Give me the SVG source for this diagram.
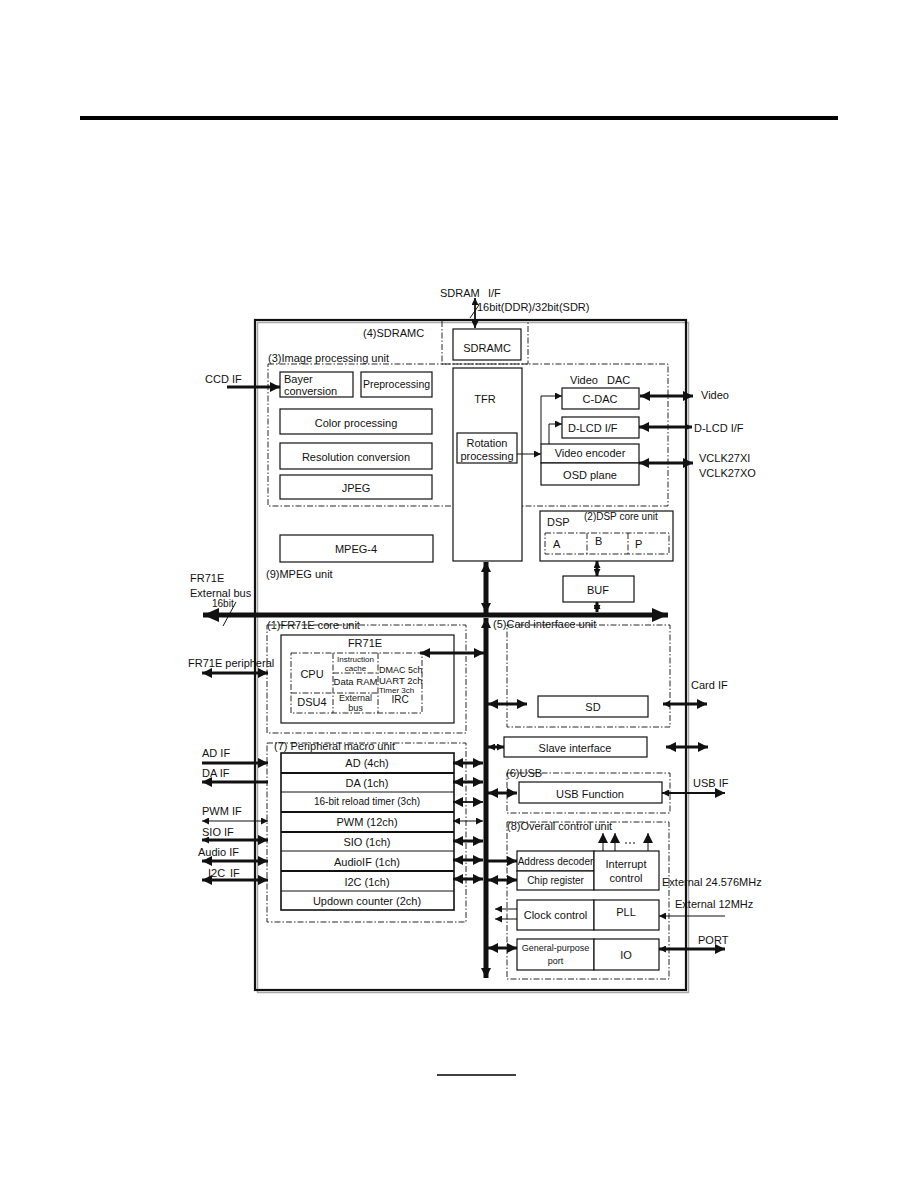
<svg xmlns="http://www.w3.org/2000/svg" width="918" height="1188" viewBox="0 0 918 1188">
<style>
text{font-family:"Liberation Sans",Arial,sans-serif;font-size:11px;fill:#111}
.m{text-anchor:middle}
.sm{font-size:9px}
.xs{font-size:8px}
.box{fill:#fff;stroke:#111;stroke-width:1.2}
.row{fill:#fff;stroke:#111;stroke-width:1.6}
.dash{fill:none;stroke:#111;stroke-width:0.9;stroke-dasharray:6 2 1.5 2}
.c{fill:none;stroke:#111;stroke-linecap:butt}
.t1{stroke-width:1}
.t2{stroke-width:1.8}
.t3{stroke-width:3}
.t5{stroke-width:5}
</style>
<defs>
<marker id="a" markerUnits="userSpaceOnUse" markerWidth="10" markerHeight="10" viewBox="0 0 10 10" refX="10" refY="5" orient="auto-start-reverse"><path d="M0,0L10,5L0,10z" fill="#111"/></marker>
<marker id="s" markerUnits="userSpaceOnUse" markerWidth="7" markerHeight="7" viewBox="0 0 10 10" refX="10" refY="5" orient="auto-start-reverse"><path d="M0,0L10,5L0,10z" fill="#111"/></marker>
<marker id="b" markerUnits="userSpaceOnUse" markerWidth="16" markerHeight="14" viewBox="0 0 16 14" refX="16" refY="7" orient="auto-start-reverse"><path d="M0,0L16,7L0,14z" fill="#111"/></marker>
</defs>
<rect width="918" height="1188" fill="#fff"/>
<rect x="80" y="116" width="758" height="4" fill="#000"/>
<line x1="437" y1="1075" x2="516" y2="1075" stroke="#000" stroke-width="1.5"/>

<g id="frame">
<rect x="257.5" y="322.5" width="431" height="670" fill="none" stroke="#aaa" stroke-width="1.5"/>
<rect x="255" y="320" width="431" height="670" fill="none" stroke="#111" stroke-width="2.2"/>
</g>

<g id="sdramc-unit">
<rect class="dash" x="442" y="320" width="86" height="44"/>
<text x="363" y="337">(4)SDRAMC</text>
</g>
<g id="sdramc"><rect class="box" x="453" y="329" width="68" height="31"/><text class="m" x="487" y="352">SDRAMC</text></g>
<g id="sdram-if"><text x="440" y="297">SDRAM<tspan x="488">I/F</tspan></text><text x="477" y="311">16bit(DDR)/32bit(SDR)</text></g>

<g id="image-unit"><rect class="dash" x="268" y="364" width="400" height="142"/><text x="268" y="362">(3)Image processing unit</text></g>
<g id="bayer"><rect class="box" x="280" y="372" width="73" height="25"/><text x="284" y="383">Bayer</text><text x="284" y="395">conversion</text></g>
<g id="preprocessing"><rect class="box" x="361" y="372" width="71" height="25"/><text class="m" x="396.5" y="388" style="font-size:10.5px">Preprocessing</text></g>
<g id="color"><rect class="box" x="280" y="409" width="152" height="25"/><text class="m" x="356" y="427">Color processing</text></g>
<g id="resolution"><rect class="box" x="280" y="443" width="152" height="26"/><text class="m" x="356" y="461">Resolution conversion</text></g>
<g id="jpeg"><rect class="box" x="280" y="475" width="152" height="24"/><text class="m" x="356" y="492">JPEG</text></g>
<g id="ccd-if"><text x="205" y="383">CCD IF</text></g>

<g id="tfr"><rect class="box" x="453" y="368" width="69" height="193"/><text class="m" x="485" y="403">TFR</text></g>
<g id="rotation"><rect class="box" x="457" y="433" width="60" height="30"/><text class="m" x="487" y="447">Rotation</text><text class="m" x="487" y="460">processing</text></g>

<g id="video-dac"><text x="570" y="384">Video<tspan x="607">DAC</tspan></text></g>
<g id="cdac"><rect class="box" x="562" y="388" width="77" height="21"/><text class="m" x="600" y="403">C-DAC</text></g>
<g id="dlcd"><rect class="box" x="562" y="417" width="77" height="21"/><text x="568" y="432">D-LCD I/F</text></g>
<g id="encoder"><rect class="box" x="541" y="444" width="98" height="19"/><text class="m" x="590" y="457">Video encoder</text></g>
<g id="osd"><rect class="box" x="541" y="463" width="98" height="22"/><text class="m" x="590" y="479">OSD plane</text></g>
<g id="ext-video"><text x="701" y="399">Video</text><text x="694" y="432">D-LCD I/F</text><text x="699" y="462">VCLK27XI</text><text x="699" y="477">VCLK27XO</text></g>

<g id="dsp-unit">
<rect class="box" x="540" y="511" width="133" height="50"/>
<text x="547" y="526">DSP</text>
<text x="584" y="520" style="font-size:10px">(2)DSP core unit</text>
<rect class="dash" x="545" y="533" width="124" height="21"/>
<line class="dash" x1="587" y1="533" x2="587" y2="554"/>
<line class="dash" x1="628" y1="533" x2="628" y2="554"/>
<text x="553" y="548">A</text><text x="595" y="545">B</text><text x="635" y="548">P</text>
</g>
<g id="buf"><rect class="box" x="563" y="576" width="71" height="26"/><text class="m" x="598" y="594">BUF</text></g>

<g id="mpeg-unit"><text x="266" y="578">(9)MPEG unit</text></g>
<g id="mpeg4"><rect class="box" x="280" y="535" width="153" height="27"/><text class="m" x="356" y="553">MPEG-4</text></g>
<g id="ext-bus"><text x="190" y="582">FR71E</text><text x="190" y="597">External bus</text><text x="212" y="607" style="font-size:10px">16bit</text></g>

<g id="fr71e-unit">
<rect class="dash" x="267" y="625" width="199" height="108"/>
<text x="267" y="629">(1)FR71E core unit</text>
</g>
<g id="fr71e">
<rect class="box" x="281" y="635" width="173" height="88"/>
<text class="m" x="365" y="647">FR71E</text>
<rect class="dash" x="291" y="653" width="131" height="60"/>
<line class="dash" x1="333" y1="653" x2="333" y2="713"/>
<line class="dash" x1="378" y1="653" x2="378" y2="713"/>
<line class="dash" x1="291" y1="693" x2="378" y2="693"/>
<line class="dash" x1="333" y1="673" x2="378" y2="673"/>
<text class="m" x="312" y="678">CPU</text>
<text class="m" x="312" y="706">DSU4</text>
<text class="m xs" x="355.5" y="662">Instruction</text>
<text class="m xs" x="355.5" y="671">cache</text>
<text class="m" x="355.5" y="685" style="font-size:9.5px">Data RAM</text>
<text class="m sm" x="355.5" y="701">External</text>
<text class="m sm" x="355.5" y="711">bus</text>
<text x="379" y="673" style="font-size:9px">DMAC 5ch</text>
<text x="379" y="684" style="font-size:9.5px">UART 2ch</text>
<text x="379" y="693" class="xs">Timer 3ch</text>
<text class="m" x="400" y="703" style="font-size:10px">IRC</text>
</g>
<g id="fr71e-periph"><text x="188" y="667">FR71E peripheral</text></g>

<g id="card-unit"><rect class="dash" x="507" y="625" width="163" height="102"/><text x="493" y="628">(5)Card interface unit</text></g>
<g id="sd"><rect class="box" x="538" y="696" width="110" height="21"/><text class="m" x="593" y="711">SD</text></g>
<g id="card-if"><text x="691" y="689">Card IF</text></g>
<g id="slave"><rect class="box" x="504" y="737" width="143" height="20"/><text class="m" x="575" y="752">Slave interface</text></g>

<g id="periph-unit">
<rect class="dash" x="267" y="743" width="199" height="179"/>
<text x="274" y="750">(7) Peripheral macro unit</text>
<rect class="row" x="281" y="753" width="173" height="157"/>
<line class="c t2" x1="281" y1="773" x2="454" y2="773"/>
<line class="c t1" x1="281" y1="792" x2="454" y2="792"/>
<line class="c t2" x1="281" y1="812" x2="454" y2="812"/>
<line class="c t2" x1="281" y1="832" x2="454" y2="832"/>
<line class="c t1" x1="281" y1="851" x2="454" y2="851"/>
<line class="c t2" x1="281" y1="871" x2="454" y2="871"/>
<line class="c t1" x1="281" y1="891" x2="454" y2="891"/>
<text class="m" x="367" y="767">AD (4ch)</text>
<text class="m" x="367" y="787">DA (1ch)</text>
<text class="m" x="367" y="805" style="font-size:10px">16-bit reload timer (3ch)</text>
<text class="m" x="367" y="826">PWM (12ch)</text>
<text class="m" x="367" y="846">SIO (1ch)</text>
<text class="m" x="367" y="866">AudioIF (1ch)</text>
<text class="m" x="367" y="886">I2C (1ch)</text>
<text class="m" x="367" y="905">Updown counter (2ch)</text>
</g>
<g id="periph-if">
<text x="202" y="757">AD IF</text>
<text x="202" y="777">DA IF</text>
<text x="202" y="815">PWM IF</text>
<text x="202" y="836">SIO IF</text>
<text x="198" y="856">Audio IF</text>
<text x="208" y="877">I2C<tspan x="230">IF</tspan></text>
</g>

<g id="usb-unit"><rect class="dash" x="507" y="773" width="163" height="40"/><text x="506" y="777">(6)USB</text></g>
<g id="usb"><rect class="box" x="519" y="782" width="143" height="21"/><text class="m" x="590" y="798">USB Function</text><text x="693" y="787">USB IF</text></g>

<g id="control-unit"><rect class="dash" x="507" y="822" width="162" height="157"/><text x="507" y="830">(8)Overall control unit</text></g>
<g id="addr"><rect class="box" x="517" y="851" width="77" height="20"/><text class="m" x="555.5" y="865" style="font-size:10px">Address decoder</text></g>
<g id="chipreg"><rect class="box" x="517" y="871" width="77" height="19"/><text class="m" x="555.5" y="884" style="font-size:10px">Chip register</text></g>
<g id="interrupt"><rect class="box" x="594" y="851" width="65" height="39"/><text class="m" x="626" y="868">Interrupt</text><text class="m" x="626" y="882">control</text></g>
<g id="clock"><rect class="box" x="517" y="900" width="77" height="30"/><text class="m" x="555.5" y="919">Clock control</text></g>
<g id="pll"><rect class="box" x="594" y="900" width="65" height="30"/><text class="m" x="626" y="916">PLL</text></g>
<g id="gpport"><rect class="box" x="517" y="939" width="77" height="31"/><text class="m sm" x="555.5" y="951">General-purpose</text><text class="m sm" x="555.5" y="964">port</text></g>
<g id="io"><rect class="box" x="594" y="939" width="65" height="31"/><text class="m" x="626" y="959">IO</text></g>
<g id="ext-clk"><text x="662" y="886">External 24.576MHz</text><text x="675" y="908">External 12MHz</text><text x="698" y="944">PORT</text></g>

<g id="connectors">
<line class="c t2" x1="475" y1="298" x2="475" y2="328" marker-start="url(#s)" marker-end="url(#s)"/>
<line class="c t1" x1="470" y1="318" x2="479" y2="305"/>
<line class="c t3" x1="227" y1="387" x2="280" y2="387" marker-end="url(#a)"/>
<line class="c t1" x1="517" y1="454" x2="541" y2="454" marker-end="url(#s)"/>
<polyline class="c t1" points="541,444 541,396 562,396" marker-end="url(#s)"/>
<polyline class="c t1" points="549,444 549,424 562,424" marker-end="url(#s)"/>
<line class="c t3" x1="640" y1="396" x2="693" y2="396" marker-start="url(#a)" marker-end="url(#a)"/>
<line class="c t3" x1="639" y1="427" x2="692" y2="427" marker-start="url(#a)" marker-end="url(#s)"/>
<line class="c t3" x1="639" y1="463" x2="693" y2="463" marker-start="url(#a)" marker-end="url(#a)"/>
<line class="c t5" x1="486" y1="562" x2="486" y2="613" marker-start="url(#a)" marker-end="url(#a)"/>
<line class="c t5" x1="203" y1="615" x2="668" y2="615" marker-start="url(#b)" marker-end="url(#b)"/>
<line class="c t5" x1="486" y1="618" x2="486" y2="978" marker-start="url(#a)" marker-end="url(#a)"/>
<line class="c t3" x1="597" y1="561" x2="597" y2="576" marker-start="url(#s)" marker-end="url(#s)"/>
<line class="c t3" x1="597" y1="602" x2="597" y2="612" marker-start="url(#s)" marker-end="url(#s)"/>
<line class="c t1" x1="223" y1="626" x2="236" y2="602"/>
<line class="c t3" x1="202" y1="673" x2="268" y2="673" marker-start="url(#a)" marker-end="url(#a)"/>
<line class="c t3" x1="420" y1="653" x2="484" y2="653" marker-start="url(#a)" marker-end="url(#a)"/>
<line class="c t3" x1="488" y1="704" x2="527" y2="704" marker-start="url(#a)" marker-end="url(#a)"/>
<line class="c t3" x1="663" y1="704" x2="707" y2="704" marker-start="url(#s)" marker-end="url(#a)"/>
<line class="c t3" x1="488" y1="747" x2="504" y2="747" marker-start="url(#s)" marker-end="url(#s)"/>
<line class="c t3" x1="666" y1="747" x2="708" y2="747" marker-start="url(#a)" marker-end="url(#a)"/>
<line class="c t3" x1="202" y1="763" x2="268" y2="763" marker-end="url(#a)"/>
<line class="c t3" x1="268" y1="782" x2="202" y2="782" marker-end="url(#a)"/>
<line class="c t1" x1="202" y1="821" x2="268" y2="821" marker-start="url(#s)" marker-end="url(#s)"/>
<line class="c t3" x1="202" y1="840" x2="268" y2="840" marker-start="url(#s)" marker-end="url(#a)"/>
<line class="c t3" x1="202" y1="861" x2="268" y2="861" marker-start="url(#a)" marker-end="url(#a)"/>
<line class="c t3" x1="202" y1="880" x2="268" y2="880" marker-start="url(#a)" marker-end="url(#a)"/>
<line class="c t3" x1="453" y1="763" x2="483" y2="763" marker-start="url(#a)" marker-end="url(#a)"/>
<line class="c t3" x1="453" y1="782" x2="483" y2="782" marker-start="url(#a)" marker-end="url(#a)"/>
<line class="c t2" x1="453" y1="802" x2="483" y2="802" marker-start="url(#a)" marker-end="url(#a)"/>
<line class="c t1" x1="453" y1="821" x2="483" y2="821" marker-start="url(#s)" marker-end="url(#s)"/>
<line class="c t3" x1="453" y1="841" x2="483" y2="841" marker-start="url(#a)" marker-end="url(#a)"/>
<line class="c t3" x1="453" y1="860" x2="483" y2="860" marker-start="url(#a)" marker-end="url(#a)"/>
<line class="c t3" x1="453" y1="879" x2="483" y2="879" marker-start="url(#a)" marker-end="url(#a)"/>
<line class="c t3" x1="488" y1="793" x2="517" y2="793" marker-start="url(#a)" marker-end="url(#a)"/>
<line class="c t2" x1="662" y1="793" x2="725" y2="793" marker-start="url(#s)" marker-end="url(#a)"/>
<line class="c t1" x1="603" y1="851" x2="603" y2="833" marker-end="url(#a)"/>
<line class="c t1" x1="615" y1="851" x2="615" y2="833" marker-end="url(#a)"/>
<line class="c t1" x1="648" y1="851" x2="648" y2="833" marker-end="url(#a)"/>
<line class="c t1" x1="625" y1="843" x2="637" y2="843" stroke-dasharray="2 2"/>
<line class="c t3" x1="488" y1="861" x2="517" y2="861" marker-end="url(#a)"/>
<line class="c t3" x1="488" y1="880" x2="517" y2="880" marker-start="url(#a)" marker-end="url(#a)"/>
<line class="c t1" x1="517" y1="909" x2="495" y2="909" marker-end="url(#s)"/>
<line class="c t1" x1="517" y1="919" x2="495" y2="919" marker-end="url(#s)"/>
<line class="c t1" x1="725" y1="916" x2="659" y2="916" marker-end="url(#s)"/>
<line class="c t3" x1="488" y1="948" x2="517" y2="948" marker-start="url(#a)" marker-end="url(#a)"/>
<line class="c t3" x1="659" y1="949" x2="725" y2="949" marker-start="url(#s)" marker-end="url(#a)"/>
</g>
</svg>
